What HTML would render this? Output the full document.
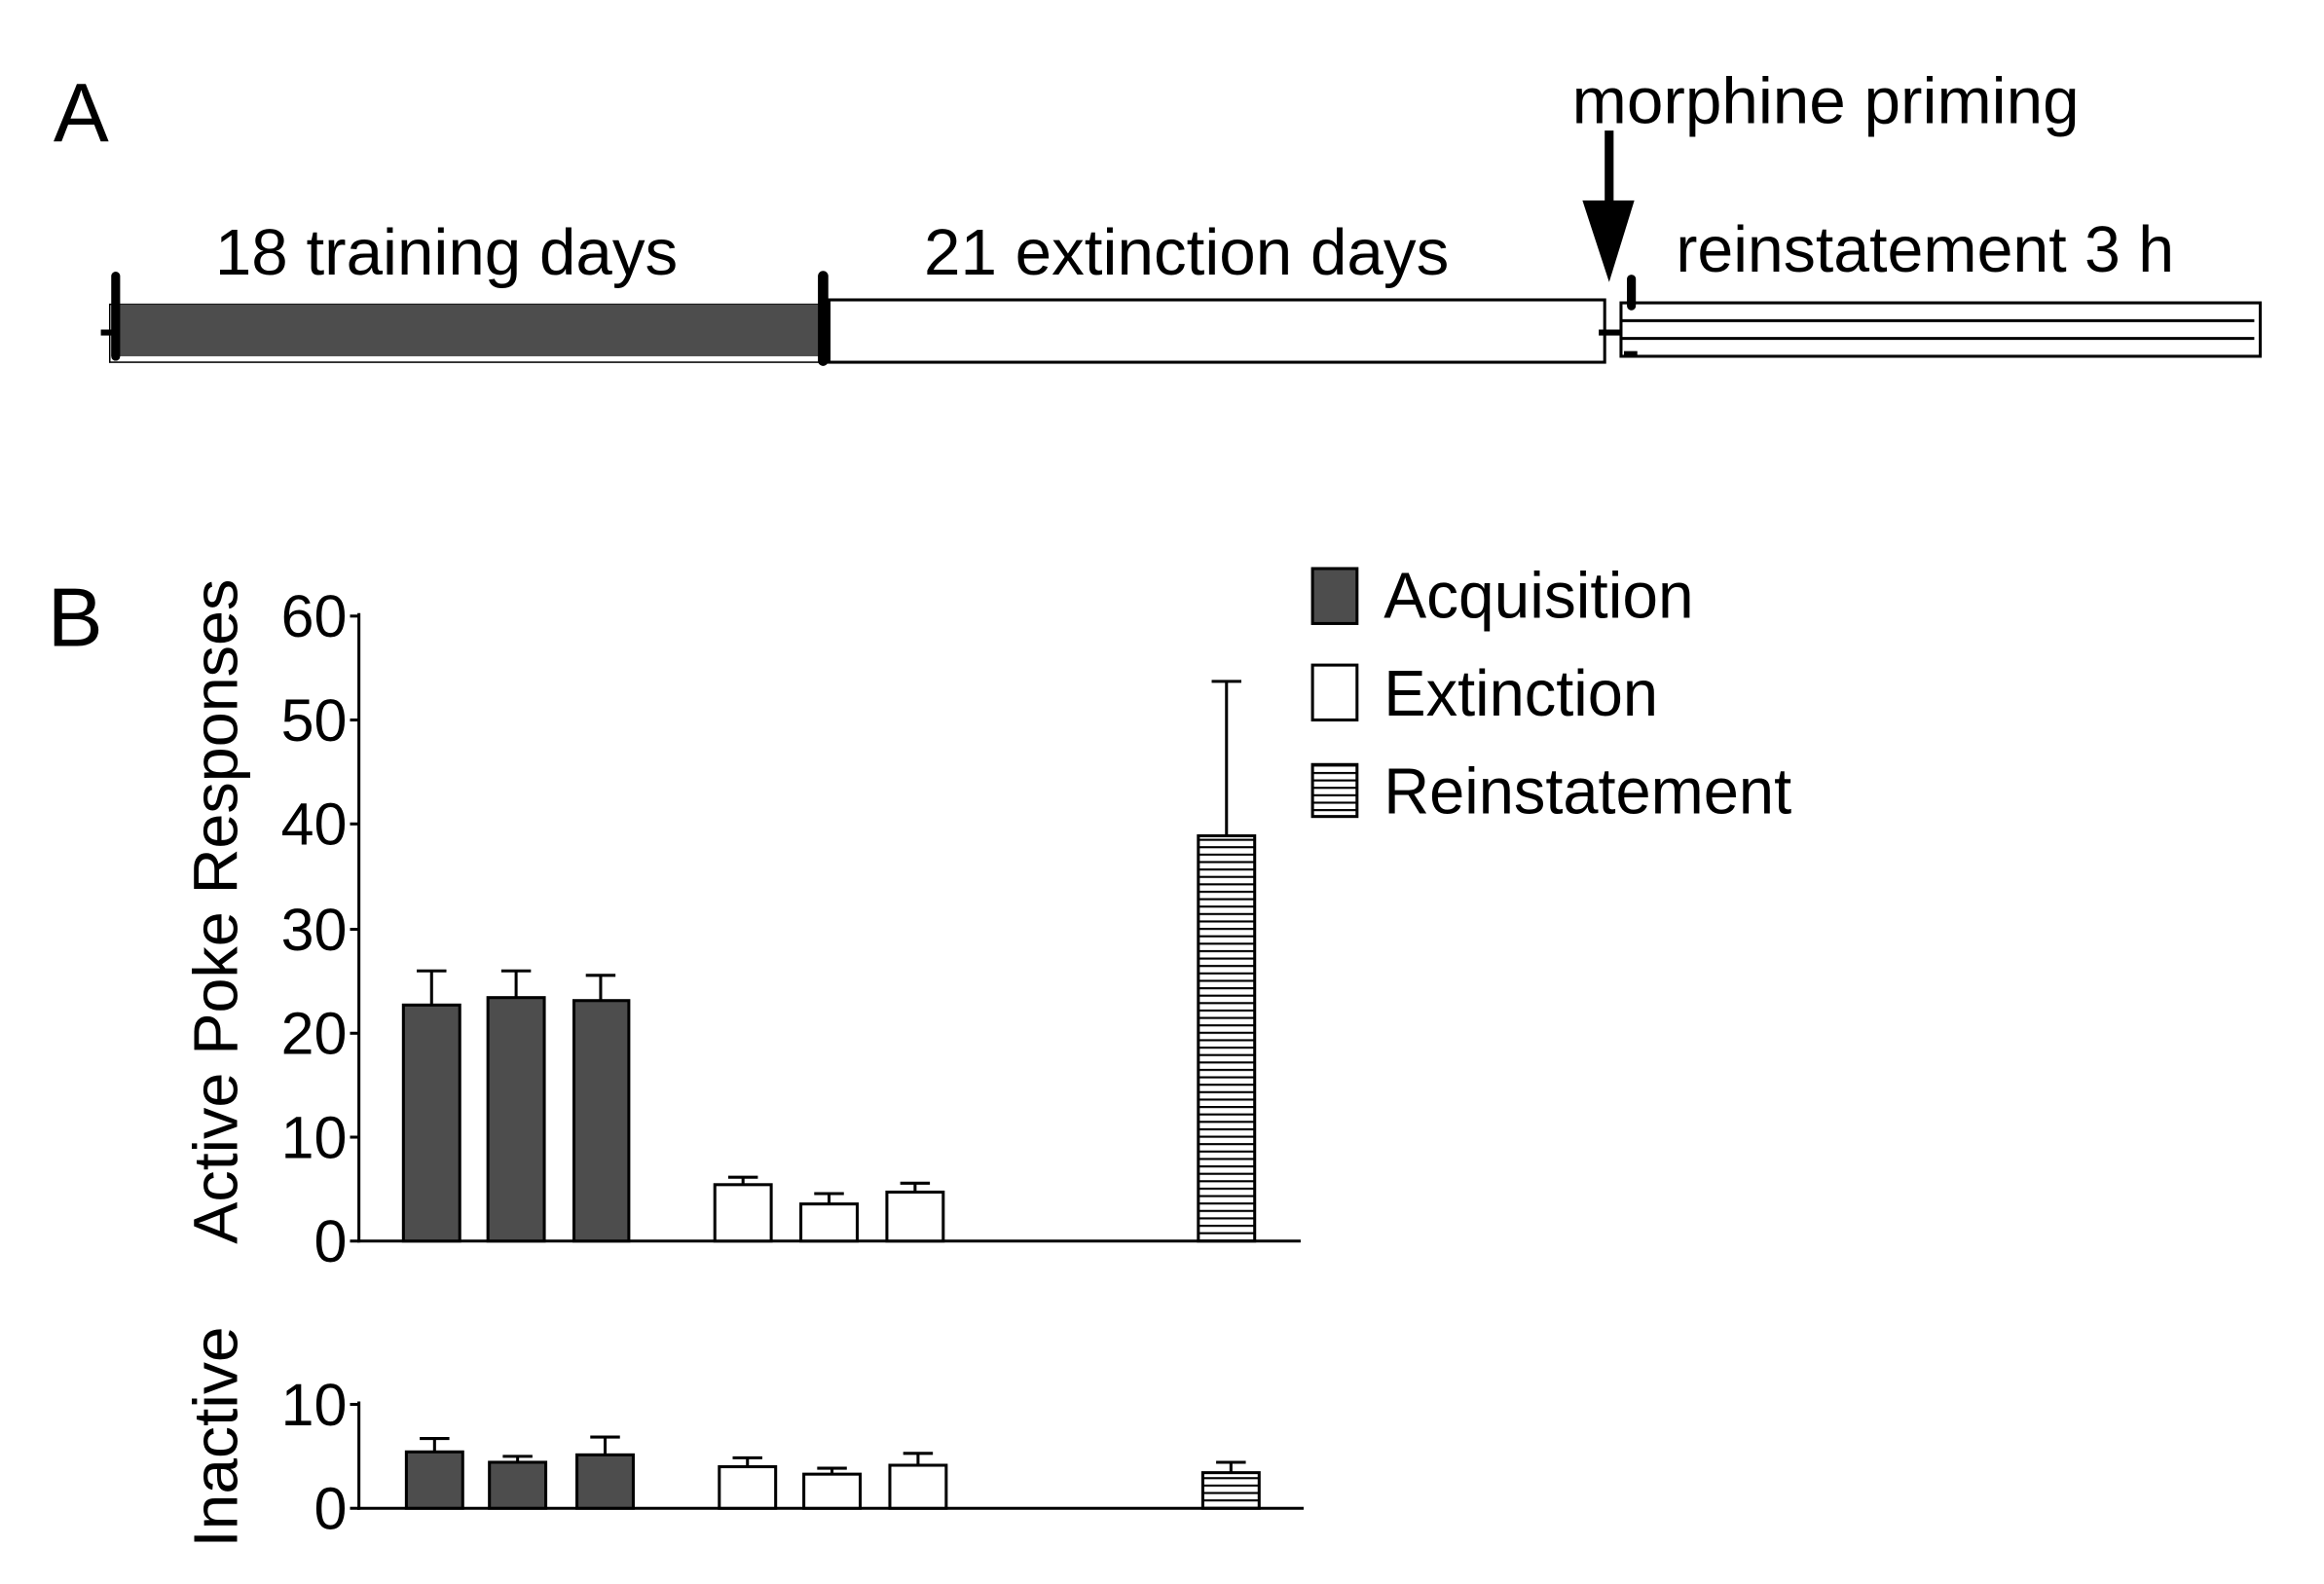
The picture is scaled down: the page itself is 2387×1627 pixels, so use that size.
<!DOCTYPE html>
<html><head><style>html,body{margin:0;padding:0;background:#fff}svg{display:block}</style></head>
<body>
<svg width="2387" height="1627" viewBox="0 0 1567 1067" preserveAspectRatio="none" xmlns="http://www.w3.org/2000/svg" font-family="Liberation Sans, Arial, sans-serif" fill="#000">
<defs>
<pattern id="st" width="10" height="5" patternUnits="userSpaceOnUse"><rect width="10" height="5" fill="#fff"/><rect y="0" width="10" height="1.4" fill="#000"/></pattern>
</defs>
<rect width="1567" height="1067" fill="#fff"/>
<text x="36" y="95" font-size="56">A</text>
<text x="1060" y="83" font-size="44" textLength="342" lengthAdjust="spacingAndGlyphs">morphine priming</text>
<line x1="1085" y1="88" x2="1085" y2="140" stroke="#000" stroke-width="6"/>
<polygon points="1067,135 1102,135 1085,190"/>
<text x="145" y="185" font-size="44" textLength="312" lengthAdjust="spacingAndGlyphs">18 training days</text>
<text x="623" y="185" font-size="44" textLength="354" lengthAdjust="spacingAndGlyphs">21 extinction days</text>
<text x="1130" y="183" font-size="44" textLength="336" lengthAdjust="spacingAndGlyphs">reinstatement 3 h</text>
<rect x="74" y="205" width="482" height="39" fill="#fff" stroke="#000" stroke-width="1"/>
<rect x="75" y="205" width="480" height="35" fill="#4d4d4d"/>
<line x1="78" y1="186" x2="78" y2="240" stroke="#000" stroke-width="6" stroke-linecap="round"/>
<line x1="68" y1="224" x2="76" y2="224" stroke="#000" stroke-width="4"/>
<line x1="555" y1="186" x2="555" y2="243" stroke="#000" stroke-width="7" stroke-linecap="round"/>
<rect x="559" y="202" width="523" height="42" fill="#fff" stroke="#000" stroke-width="2"/>
<line x1="1078" y1="224" x2="1094" y2="224" stroke="#000" stroke-width="4"/>
<rect x="1093" y="204" width="431" height="36" fill="#fff" stroke="#000" stroke-width="2"/>
<line x1="1093" y1="216" x2="1520" y2="216" stroke="#000" stroke-width="2"/>
<line x1="1093" y1="228" x2="1520" y2="228" stroke="#000" stroke-width="2"/>
<line x1="1100" y1="188" x2="1100" y2="206" stroke="#000" stroke-width="6" stroke-linecap="round"/>
<line x1="1095" y1="238" x2="1104" y2="238" stroke="#000" stroke-width="3"/>

<text x="32" y="435" font-size="56">B</text>
<g stroke="#000" stroke-width="2">
<line x1="242" y1="413" x2="242" y2="837"/>
<line x1="241" y1="836" x2="877" y2="836"/>
<line x1="236" y1="415" x2="242" y2="415"/><line x1="236" y1="485" x2="242" y2="485"/><line x1="236" y1="555" x2="242" y2="555"/><line x1="236" y1="626" x2="242" y2="626"/><line x1="236" y1="696" x2="242" y2="696"/><line x1="236" y1="766" x2="242" y2="766"/><line x1="236" y1="836" x2="242" y2="836"/>
<line x1="242" y1="944" x2="242" y2="1017"/>
<line x1="241" y1="1016" x2="879" y2="1016"/>
<line x1="236" y1="946" x2="242" y2="946"/><line x1="236" y1="1016" x2="242" y2="1016"/>
</g>
<g font-size="40" text-anchor="end">
<text x="234" y="429">60</text><text x="234" y="499">50</text><text x="234" y="569">40</text><text x="234" y="640">30</text><text x="234" y="710">20</text><text x="234" y="780">10</text><text x="234" y="850">0</text>
<text x="234" y="960">10</text><text x="234" y="1030">0</text>
</g>
<text transform="translate(160,614) rotate(-90)" font-size="42" text-anchor="middle" textLength="448" lengthAdjust="spacingAndGlyphs">Active Poke Responses</text>
<text transform="translate(160,968) rotate(-90)" font-size="42" text-anchor="middle" textLength="149" lengthAdjust="spacingAndGlyphs">Inactive</text>
<g stroke="#000" stroke-width="2">
<line x1="291" y1="677" x2="291" y2="654"/><line x1="281" y1="654" x2="301" y2="654"/>
<line x1="348" y1="672" x2="348" y2="654"/><line x1="338" y1="654" x2="358" y2="654"/>
<line x1="405" y1="674" x2="405" y2="657"/><line x1="395" y1="657" x2="415" y2="657"/>
<line x1="501" y1="798" x2="501" y2="793"/><line x1="491" y1="793" x2="511" y2="793"/>
<line x1="559" y1="811" x2="559" y2="804"/><line x1="549" y1="804" x2="569" y2="804"/>
<line x1="617" y1="803" x2="617" y2="797"/><line x1="607" y1="797" x2="627" y2="797"/>
<line x1="827" y1="563" x2="827" y2="459"/><line x1="817" y1="459" x2="837" y2="459"/>
<rect x="272" y="677" width="38" height="159" fill="#4d4d4d"/>
<rect x="329" y="672" width="38" height="164" fill="#4d4d4d"/>
<rect x="387" y="674" width="37" height="162" fill="#4d4d4d"/>
<rect x="482" y="798" width="38" height="38" fill="#fff"/>
<rect x="540" y="811" width="38" height="25" fill="#fff"/>
<rect x="598" y="803" width="38" height="33" fill="#fff"/>
<rect x="808" y="563" width="38" height="273" fill="url(#st)"/>
<line x1="293" y1="978" x2="293" y2="969"/><line x1="283" y1="969" x2="303" y2="969"/>
<line x1="349" y1="985" x2="349" y2="981"/><line x1="339" y1="981" x2="359" y2="981"/>
<line x1="408" y1="980" x2="408" y2="968"/><line x1="398" y1="968" x2="418" y2="968"/>
<line x1="504" y1="988" x2="504" y2="982"/><line x1="494" y1="982" x2="514" y2="982"/>
<line x1="561" y1="993" x2="561" y2="989"/><line x1="551" y1="989" x2="571" y2="989"/>
<line x1="619" y1="987" x2="619" y2="979"/><line x1="609" y1="979" x2="629" y2="979"/>
<line x1="830" y1="992" x2="830" y2="985"/><line x1="820" y1="985" x2="840" y2="985"/>
<rect x="274" y="978" width="38" height="38" fill="#4d4d4d"/>
<rect x="330" y="985" width="38" height="31" fill="#4d4d4d"/>
<rect x="389" y="980" width="38" height="36" fill="#4d4d4d"/>
<rect x="485" y="988" width="38" height="28" fill="#fff"/>
<rect x="542" y="993" width="38" height="23" fill="#fff"/>
<rect x="600" y="987" width="38" height="29" fill="#fff"/>
<rect x="811" y="992" width="38" height="24" fill="url(#st)"/>
<rect x="885" y="383" width="30" height="37" fill="#4d4d4d"/>
<rect x="885" y="448" width="30" height="37" fill="#fff"/>
<rect x="885" y="515" width="30" height="35" fill="url(#st)"/>
</g>
<g font-size="44">
<text x="933" y="416" textLength="209" lengthAdjust="spacingAndGlyphs">Acquisition</text>
<text x="933" y="482" textLength="185" lengthAdjust="spacingAndGlyphs">Extinction</text>
<text x="933" y="548" textLength="275" lengthAdjust="spacingAndGlyphs">Reinstatement</text>
</g>
</svg>
</body></html>
